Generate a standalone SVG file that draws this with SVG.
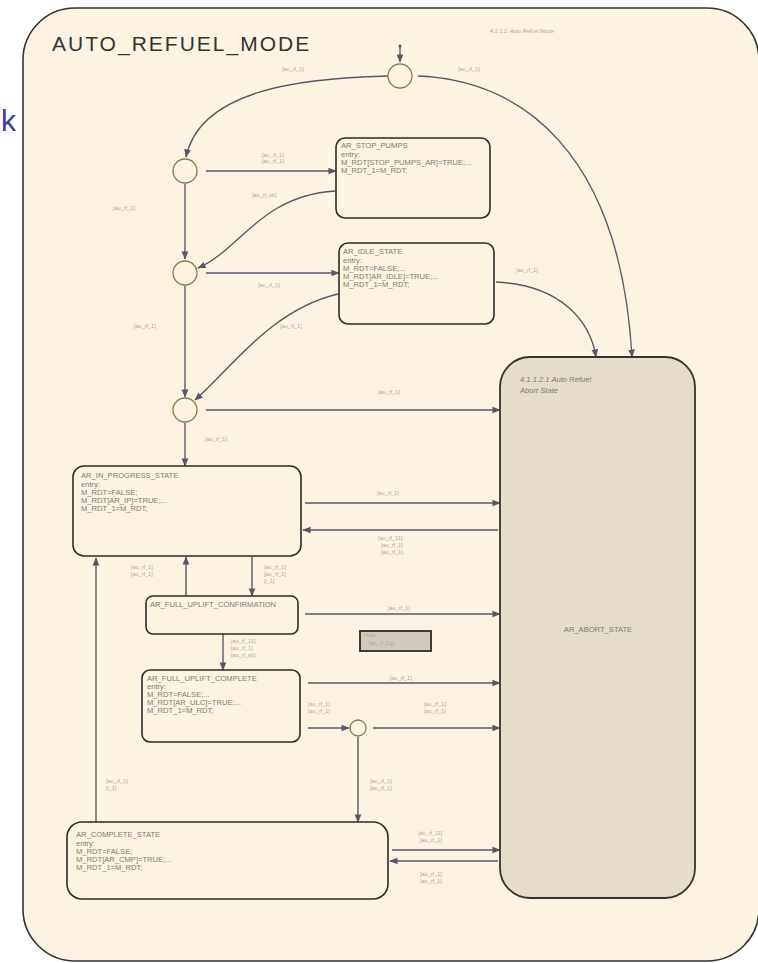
<svg xmlns="http://www.w3.org/2000/svg" width="758" height="963" viewBox="0 0 758 963">
  <style>
    .frame { fill: #fdf3e2; stroke: #333; stroke-width: 1.6; }
    .state { fill: #fdf3e2; stroke: #2b2b2b; stroke-width: 1.6; }
    .abort { fill: #e6dccb; stroke: #3a3030; stroke-width: 1.8; }
    .junc { fill: #fdf3e2; stroke: #8b7a50; stroke-width: 1.3; }
    .edge { fill: none; stroke: #5a5668; stroke-width: 1.4; marker-end: url(#arr); }
    .st { font-family: "Liberation Sans", Arial, sans-serif; font-size: 7.6px; fill: #807a70; }
    .lbl { font-family: "Liberation Sans", Arial, sans-serif; font-size: 5.5px; fill: #b0a898; }
    .title { font-family: "Liberation Sans", Arial, sans-serif; font-size: 21px; letter-spacing: 2px; fill: #333; }
  </style>
  <defs>
    <marker id="arr" viewBox="0 0 10 10" refX="9" refY="5" markerWidth="6" markerHeight="6" orient="auto">
      <path d="M0,1 L10,5 L0,9 z" fill="#5a5668"/>
    </marker>
  </defs>

  <rect width="758" height="963" fill="#ffffff"/>

  <!-- outer super-state -->
  <g id="auto_refuel_mode">
    <rect class="frame" x="23" y="8" width="736" height="953" rx="52"/>
    <text class="title" x="52" y="51">AUTO_REFUEL_MODE</text>
    <text class="lbl" x="490" y="33" font-style="italic">4.1.1.2. Auto Refuel Mode</text>
  </g>
  <text x="1" y="131" font-family="Liberation Sans, Arial, sans-serif" font-size="30" fill="#3a3aa8">k</text>

  <!-- connectors -->
  <g id="connectors">
    <line x1="400" y1="46" x2="400" y2="62" class="edge"/>
    <circle cx="400" cy="46" r="1.5" fill="#5a5668"/>
    <path class="edge" d="M388,76 C300,78 200,90 186,157"/>
    <path class="edge" d="M418,76 C520,80 620,150 632,357"/>
    <line class="edge" x1="206" y1="171" x2="336" y2="171"/>
    <line class="edge" x1="185" y1="184" x2="185" y2="259"/>
    <path class="edge" d="M335,191 C260,196 240,250 198,268"/>
    <line class="edge" x1="206" y1="273" x2="339" y2="273"/>
    <line class="edge" x1="185" y1="286" x2="185" y2="397"/>
    <path class="edge" d="M338,294 C270,310 230,370 195,400"/>
    <line class="edge" x1="206" y1="410" x2="500" y2="410"/>
    <line class="edge" x1="185" y1="423" x2="185" y2="466"/>
    <path class="edge" d="M496,282 C560,285 590,320 596,357"/>
    <line class="edge" x1="305" y1="503" x2="500" y2="503"/>
    <line class="edge" x1="498" y1="530" x2="303" y2="530"/>
    <line class="edge" x1="252" y1="557" x2="252" y2="596"/>
    <line class="edge" x1="186" y1="596" x2="186" y2="557"/>
    <line class="edge" x1="305" y1="614" x2="500" y2="614"/>
    <line class="edge" x1="223" y1="634" x2="223" y2="670"/>
    <line class="edge" x1="308" y1="683" x2="500" y2="683"/>
    <line class="edge" x1="308" y1="728" x2="349" y2="728"/>
    <line class="edge" x1="373" y1="728" x2="500" y2="728"/>
    <line class="edge" x1="358" y1="737" x2="358" y2="822"/>
    <line class="edge" x1="392" y1="850" x2="500" y2="850"/>
    <line class="edge" x1="498" y1="861" x2="390" y2="861"/>
    <line class="edge" x1="96" y1="822" x2="96" y2="558"/>
  </g>

  <!-- transition labels -->
  <g id="labels">
    <text class="lbl" x="282" y="71">[au_rf_1]</text>
    <text class="lbl" x="458" y="71">[au_rf_1]</text>
    <text class="lbl" x="262" y="157">[au_rf_1]</text>
    <text class="lbl" x="262" y="163">[au_rf_1]</text>
    <text class="lbl" x="113" y="210">[au_rf_1]</text>
    <text class="lbl" x="252" y="197">[au_rf_sb]</text>
    <text class="lbl" x="258" y="287">[au_rf_1]</text>
    <text class="lbl" x="134" y="328">[au_rf_1]</text>
    <text class="lbl" x="280" y="328">[au_rf_1]</text>
    <text class="lbl" x="516" y="272">[au_rf_1]</text>
    <text class="lbl" x="378" y="394">[au_rf_1]</text>
    <text class="lbl" x="205" y="441">[au_rf_1]</text>
    <text class="lbl" x="377" y="495">[au_rf_1]</text>
    <text class="lbl" x="378" y="540">[au_rf_11]</text>
    <text class="lbl" x="381" y="547">[au_rf_1]</text>
    <text class="lbl" x="381" y="554">[au_rf_1]</text>
    <text class="lbl" x="131" y="569">[au_rf_1]</text>
    <text class="lbl" x="131" y="576">[au_rf_1]</text>
    <text class="lbl" x="264" y="569">[au_rf_1]</text>
    <text class="lbl" x="264" y="576">[au_rf_1]</text>
    <text class="lbl" x="264" y="583">[i_1]</text>
    <text class="lbl" x="388" y="610">[au_rf_1]</text>
    <text class="lbl" x="231" y="643">[au_rf_11]</text>
    <text class="lbl" x="231" y="650">[au_rf_1]</text>
    <text class="lbl" x="231" y="657">[au_rf_sb]</text>
    <text class="lbl" x="390" y="680">[au_rf_1]</text>
    <text class="lbl" x="308" y="706">[au_rf_1]</text>
    <text class="lbl" x="308" y="713">[au_rf_1]</text>
    <text class="lbl" x="424" y="706">[au_rf_1]</text>
    <text class="lbl" x="424" y="713">[au_rf_1]</text>
    <text class="lbl" x="370" y="783">[au_rf_1]</text>
    <text class="lbl" x="370" y="790">[au_rf_1]</text>
    <text class="lbl" x="106" y="783">[au_rf_1]</text>
    <text class="lbl" x="106" y="790">[i_1]</text>
    <text class="lbl" x="418" y="835">[au_rf_11]</text>
    <text class="lbl" x="420" y="842">[au_rf_1]</text>
    <text class="lbl" x="420" y="876">[au_rf_1]</text>
    <text class="lbl" x="420" y="883">[au_rf_1]</text>
  </g>

  <!-- junctions -->
  <g id="j_top"><circle class="junc" cx="400" cy="76" r="12"/></g>
  <g id="j1"><circle class="junc" cx="185" cy="171" r="12"/></g>
  <g id="j2"><circle class="junc" cx="185" cy="273" r="12"/></g>
  <g id="j3"><circle class="junc" cx="185" cy="410" r="12"/></g>
  <g id="j4"><circle class="junc" cx="358" cy="728" r="8"/></g>

  <!-- states -->
  <g id="ar_stop_pumps">
    <rect class="state" x="336" y="138" width="154" height="80" rx="9"/>
    <text class="st" x="341" y="148">AR_STOP_PUMPS</text>
    <text class="st" x="341" y="157">entry:</text>
    <text class="st" x="341" y="165">M_RDT[STOP_PUMPS_AR]=TRUE;...</text>
    <text class="st" x="341" y="173">M_RDT_1=M_RDT;</text>
  </g>
  <g id="ar_idle_state">
    <rect class="state" x="339" y="243" width="155" height="81" rx="9"/>
    <text class="st" x="343" y="254">AR_IDLE_STATE</text>
    <text class="st" x="343" y="263">entry:</text>
    <text class="st" x="343" y="271">M_RDT=FALSE;...</text>
    <text class="st" x="343" y="279">M_RDT[AR_IDLE]=TRUE;...</text>
    <text class="st" x="343" y="287">M_RDT_1=M_RDT;</text>
  </g>
  <g id="ar_abort_state">
    <rect class="abort" x="500" y="357" width="195" height="541" rx="30"/>
    <text class="st" x="520" y="382" font-size="6.8" font-style="italic">4.1.1.2.1 Auto Refuel</text>
    <text class="st" x="520" y="393" font-size="6.8" font-style="italic">Abort State</text>
    <text class="st" x="598" y="632" text-anchor="middle" font-size="8.5">AR_ABORT_STATE</text>
  </g>
  <g id="ar_in_progress_state">
    <rect class="state" x="73" y="466" width="228" height="90" rx="11"/>
    <text class="st" x="81" y="478">AR_IN_PROGRESS_STATE</text>
    <text class="st" x="81" y="487">entry:</text>
    <text class="st" x="81" y="495">M_RDT=FALSE;</text>
    <text class="st" x="81" y="503">M_RDT[AR_IP]=TRUE;...</text>
    <text class="st" x="81" y="511">M_RDT_1=M_RDT;</text>
  </g>
  <g id="ar_full_uplift_confirmation">
    <rect class="state" x="146" y="596" width="152" height="38" rx="7"/>
    <text class="st" x="150" y="607">AR_FULL_UPLIFT_CONFIRMATION</text>
  </g>
  <g id="note">
    <rect x="360" y="631" width="71" height="20" fill="#d2cabc" stroke="#2b2b2b" stroke-width="1.8"/>
    <text class="lbl" x="364" y="637" font-size="4">Note</text>
    <text class="lbl" x="369" y="645" fill="#8a8278">[au_rf_1g]</text>
  </g>
  <g id="ar_full_uplift_complete">
    <rect class="state" x="142" y="670" width="158" height="72" rx="8"/>
    <text class="st" x="147" y="681">AR_FULL_UPLIFT_COMPLETE</text>
    <text class="st" x="147" y="689">entry:</text>
    <text class="st" x="147" y="697">M_RDT=FALSE;...</text>
    <text class="st" x="147" y="705">M_RDT[AR_ULC]=TRUE;...</text>
    <text class="st" x="147" y="713">M_RDT_1=M_RDT;</text>
  </g>
  <g id="ar_complete_state">
    <rect class="state" x="67" y="822" width="321" height="77" rx="15"/>
    <text class="st" x="76" y="837">AR_COMPLETE_STATE</text>
    <text class="st" x="76" y="846">entry:</text>
    <text class="st" x="76" y="854">M_RDT=FALSE;</text>
    <text class="st" x="76" y="862">M_RDT[AR_CMP]=TRUE;...</text>
    <text class="st" x="76" y="870">M_RDT_1=M_RDT;</text>
  </g>
</svg>
